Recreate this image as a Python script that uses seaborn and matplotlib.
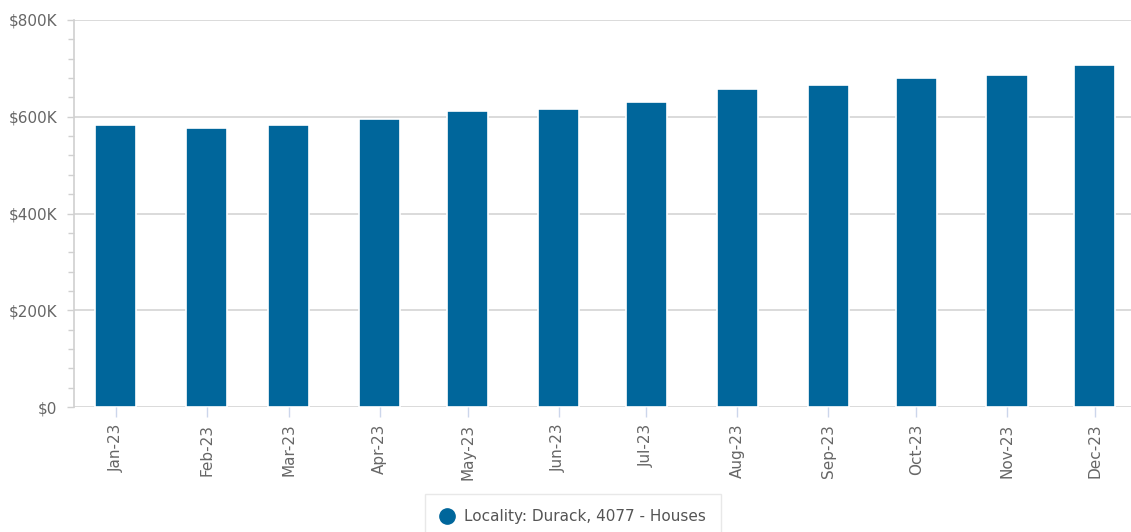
import pandas as pd
import numpy as np
import seaborn as sns
import matplotlib.pyplot as plt
import matplotlib.dates as mdates
from matplotlib.ticker import FuncFormatter, MultipleLocator
from matplotlib.lines import Line2D

# data
months = ['Jan-23', 'Feb-23', 'Mar-23', 'Apr-23', 'May-23', 'Jun-23',
          'Jul-23', 'Aug-23', 'Sep-23', 'Oct-23', 'Nov-23', 'Dec-23']
month_starts = pd.date_range('2023-01-01', periods=12, freq='MS')
median_price = [582000, 576500, 582000, 594500, 611500, 615000,
                629500, 656500, 665500, 680000, 686000, 707000]
series_name = 'Locality: Durack, 4077 - Houses'

df = pd.DataFrame({
    'x': mdates.date2num(month_starts),
    'price': median_price,
})

bar_colour = '#00669b'

sns.set_style('white')
plt.rcParams['font.family'] = ['DejaVu Sans']

fig = plt.figure(figsize=(11.31, 5.32), dpi=100)
ax = fig.add_axes([74 / 1131, 1 - 407 / 532, 1 - 74 / 1131, (407 - 20) / 532])

# horizontal grid under the bars
ax.set_axisbelow(True)
ax.yaxis.grid(True, color='#d8d8d8', linewidth=1.3)
ax.xaxis.grid(False)

sns.barplot(data=df, x='x', y='price', native_scale=True, width=0.5,
            color=bar_colour, saturation=1, edgecolor='white', linewidth=1.2,
            ax=ax)

ax.set_ylim(0, 800000)
ax.set_xlim(df['x'].iloc[0] - 14.3, df['x'].iloc[-1] + 12.3)
ax.yaxis.set_major_locator(MultipleLocator(200000))
ax.yaxis.set_minor_locator(MultipleLocator(40000))
ax.yaxis.set_major_formatter(FuncFormatter(
    lambda v, p: '$0' if v == 0 else f'${int(v / 1000)}K'))
ax.set_xticks(df['x'])
ax.set_xticklabels(months, rotation=90)

ax.tick_params(axis='y', which='both', left=True, colors='#d0d0d0',
               labelcolor='#666666', labelsize=11, width=1, pad=7)
ax.tick_params(axis='y', which='major', length=5)
ax.tick_params(axis='y', which='minor', length=4)
ax.tick_params(axis='x', bottom=True, length=7, width=1, colors='#ccd6eb',
               labelcolor='#666666', labelsize=11, pad=5)

for side in ['top', 'right', 'bottom']:
    ax.spines[side].set_visible(False)
ax.spines['left'].set_color('#d0d0d0')
ax.spines['left'].set_linewidth(1.2)
ax.set_xlabel('')
ax.set_ylabel('')

handle = Line2D([], [], marker='o', linestyle='', markersize=11,
                color=bar_colour)
leg = fig.legend([handle], [series_name], loc='upper center',
                 bbox_to_anchor=(573 / 1131, 1 - 494 / 532), frameon=True,
                 fancybox=False, fontsize=11, handletextpad=0.6,
                 borderpad=1.0, handlelength=1.0, borderaxespad=0)
leg.get_frame().set_edgecolor('#e3e3e3')
leg.get_frame().set_linewidth(1)
for t in leg.get_texts():
    t.set_color('#555555')

fig.savefig('out.png', dpi=100)
